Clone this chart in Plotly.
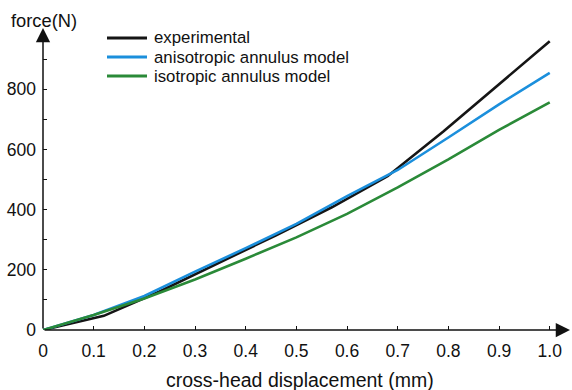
import plotly.graph_objects as go

# Load-displacement data
x_exp = [0, 0.12, 0.23, 0.35, 0.46, 0.57, 0.68, 0.79, 0.90, 1.0]
f_exp = [0, 47, 128, 225, 315, 408, 511, 660, 818, 960]

x_model = [0, 0.1, 0.2, 0.3, 0.4, 0.5, 0.6, 0.7, 0.8, 0.9, 1.0]
f_aniso = [0, 50, 113, 194, 272, 353, 445, 532, 640, 750, 855]
f_iso = [0, 50, 105, 168, 237, 308, 386, 474, 567, 665, 757]

series_names = ["experimental", "anisotropic annulus model", "isotropic annulus model"]
series_colors = ["#151515", "#1b8fdc", "#2a8a38"]

x_ticks = [0, 0.1, 0.2, 0.3, 0.4, 0.5, 0.6, 0.7, 0.8, 0.9, 1.0]
x_ticktext = ["0", "0.1", "0.2", "0.3", "0.4", "0.5", "0.6", "0.7", "0.8", "0.9", "1.0"]
y_ticks = [0, 200, 400, 600, 800]
y_minor = [100, 300, 500, 700, 900]

X_MAX = 1.04
Y_MAX = 1004

W, H = 572, 390
ML, MR, MT, MB = 43, 2, 28, 60
PW, PH = W - ML - MR, H - MT - MB

FONT = "Liberation Sans, Arial, sans-serif"


def px_x(p):
    return (p - ML) / PW


def px_y(p):
    return (H - MB - p) / PH


fig = go.Figure()
for xs, ys, name, color in zip([x_exp, x_model, x_model],
                               [f_exp, f_aniso, f_iso],
                               series_names, series_colors):
    fig.add_trace(go.Scatter(x=xs, y=ys, mode="lines", name=name,
                             line=dict(color=color, width=2.6),
                             showlegend=False))

# Hand-placed legend: short line swatch + label
leg_y = [38, 57, 76]
shapes = []
annotations = []
for name, color, yy in zip(series_names, series_colors, leg_y):
    shapes.append(dict(type="line", xref="paper", yref="paper",
                       x0=px_x(107), x1=px_x(147), y0=px_y(yy), y1=px_y(yy),
                       line=dict(color=color, width=3)))
    annotations.append(dict(text=name, xref="paper", yref="paper",
                            x=px_x(152), y=px_y(yy), xanchor="left", yanchor="middle",
                            showarrow=False, font=dict(size=16.8, color="#111", family=FONT)))

# Axis lines with arrowheads
annotations.append(dict(x=X_MAX, y=0, ax=0, ay=0, xref="x", yref="y",
                        axref="x", ayref="y", text="", showarrow=True,
                        arrowhead=2, arrowsize=1.9, arrowwidth=1.5, arrowcolor="#111"))
annotations.append(dict(x=0, y=Y_MAX, ax=0, ay=0, xref="x", yref="y",
                        axref="x", ayref="y", text="", showarrow=True,
                        arrowhead=2, arrowsize=1.9, arrowwidth=1.5, arrowcolor="#111"))

# Axis titles
annotations.append(dict(text="force(N)", xref="paper", yref="paper",
                        x=px_x(44), y=px_y(20), xanchor="center", yanchor="middle",
                        showarrow=False, font=dict(size=18.3, color="#111", family=FONT)))
annotations.append(dict(text="cross-head displacement (mm)", xref="paper", yref="paper",
                        x=px_x(300), y=px_y(380), xanchor="center", yanchor="middle",
                        showarrow=False, font=dict(size=19.5, color="#111", family=FONT)))

fig.update_layout(
    width=W, height=H,
    margin=dict(l=ML, r=MR, t=MT, b=MB, pad=0),
    paper_bgcolor="white", plot_bgcolor="white",
    font=dict(family=FONT, size=17.5, color="#111"),
    shapes=shapes, annotations=annotations,
    xaxis=dict(range=[0, X_MAX], showgrid=False, zeroline=False, showline=False,
               tickmode="array", tickvals=x_ticks, ticktext=x_ticktext,
               ticks="inside", ticklen=4, tickwidth=1.3, tickcolor="#111",
               ticklabelstandoff=8, tickfont=dict(size=17.5)),
    yaxis=dict(range=[0, Y_MAX], showgrid=False, zeroline=False, showline=False,
               tickmode="array", tickvals=y_ticks,
               ticks="inside", ticklen=4, tickwidth=1.3, tickcolor="#111",
               ticklabelstandoff=6, tickfont=dict(size=17.5),
               minor=dict(tickmode="array", tickvals=y_minor, ticks="inside",
                          ticklen=4, tickwidth=1.3, tickcolor="#111", showgrid=False)),
)

fig.write_html("out.html")
